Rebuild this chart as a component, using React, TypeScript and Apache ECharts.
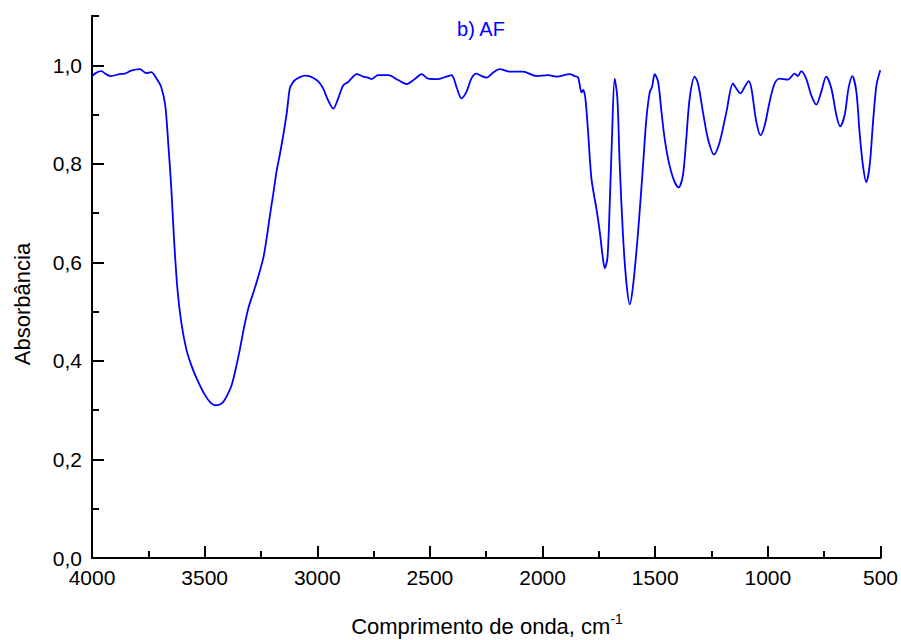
import React, { useEffect, useRef } from "react";
import * as echarts from "echarts";

// FTIR spectrum of sample AF: wavenumber (cm^-1) and absorbance
const wavenumbers: number[] = [
  4000, 3980, 3959, 3938, 3917, 3877, 3855, 3826, 3788, 3759, 3737, 3715, 3693, 3675, 3663,
  3648, 3636, 3621, 3604, 3582, 3559, 3533, 3499, 3475, 3454, 3435, 3417, 3400, 3380, 3360,
  3343, 3325, 3306, 3285, 3269, 3240, 3225, 3210, 3195, 3181, 3165, 3151, 3135, 3122, 3110,
  3099, 3077, 3055, 3030, 3003, 2988, 2974, 2952, 2929, 2907, 2885, 2863, 2845, 2826, 2796,
  2775, 2759, 2745, 2730, 2685, 2641, 2604, 2567, 2537, 2508, 2464, 2426, 2404, 2393, 2382,
  2360, 2338, 2316, 2294, 2270, 2249, 2220, 2190, 2146, 2087, 2027, 1975, 1938, 1879, 1857,
  1842, 1827, 1820, 1810, 1798, 1783, 1761, 1746, 1734, 1724, 1712, 1702, 1692, 1680, 1668,
  1658, 1643, 1628, 1613, 1598, 1576, 1554, 1539, 1524, 1514, 1502, 1487, 1472, 1458, 1440,
  1417, 1396, 1377, 1362, 1347, 1325, 1310, 1288, 1266, 1239, 1214, 1184, 1155, 1140, 1121,
  1103, 1085, 1073, 1051, 1032, 1014, 992, 970, 948, 911, 881, 867, 852, 830, 807,
  785, 763, 741, 718, 696, 679, 659, 642, 625, 607, 593, 578, 563, 548, 533,
  518, 501,
];

const absorbance: number[] = [
  0.978, 0.985, 0.988, 0.982, 0.978, 0.982, 0.983, 0.989, 0.992, 0.984, 0.986, 0.974, 0.956, 0.919, 0.851,
  0.751, 0.648, 0.547, 0.479, 0.425, 0.391, 0.362, 0.331, 0.316, 0.31, 0.311, 0.317, 0.33, 0.351, 0.388,
  0.425, 0.468, 0.507, 0.537, 0.56, 0.608, 0.648, 0.696, 0.74, 0.784, 0.822, 0.858, 0.905, 0.953, 0.964,
  0.97, 0.976, 0.979, 0.977, 0.97, 0.963, 0.953, 0.929, 0.912, 0.933, 0.959, 0.966, 0.975, 0.982, 0.977,
  0.975, 0.972, 0.976, 0.98, 0.98, 0.97, 0.962, 0.972, 0.982, 0.973, 0.972, 0.977, 0.98, 0.972, 0.956,
  0.933, 0.946, 0.973, 0.983, 0.978, 0.975, 0.985, 0.992, 0.987, 0.987, 0.978, 0.98, 0.977, 0.982, 0.978,
  0.975, 0.945, 0.95, 0.933, 0.865, 0.77, 0.709, 0.662, 0.615, 0.588, 0.609, 0.716, 0.851, 0.973, 0.933,
  0.804, 0.655, 0.56, 0.515, 0.554, 0.662, 0.797, 0.892, 0.946, 0.956, 0.982, 0.966, 0.905, 0.851, 0.804,
  0.767, 0.752, 0.777, 0.851, 0.933, 0.977, 0.963, 0.905, 0.851, 0.819, 0.844, 0.905, 0.963, 0.953, 0.943,
  0.956, 0.968, 0.953, 0.885, 0.858, 0.878, 0.926, 0.963, 0.973, 0.971, 0.983, 0.978, 0.988, 0.973, 0.939,
  0.92, 0.946, 0.977, 0.953, 0.899, 0.876, 0.899, 0.953, 0.978, 0.946, 0.865, 0.797, 0.763, 0.797, 0.885,
  0.959, 0.99,
];

const FONT = "Liberation Sans, Arial, sans-serif";
const LINE_BLUE = "#0000ff";

const commaDecimal = (v: number) => v.toFixed(1).replace(".", ",");

export default function App() {
  const ref = useRef<HTMLDivElement>(null);

  useEffect(() => {
    if (!ref.current) return;
    const chart = echarts.init(ref.current, undefined, { renderer: "svg" });

    const points = wavenumbers.map((w, i) => [w, absorbance[i]]);

    const axisLine = { show: true, lineStyle: { color: "#000", width: 2 } };

    chart.setOption({
      animation: false,
      backgroundColor: "#fff",
      grid: { left: 92, right: 20, top: 16, bottom: 82 },
      xAxis: {
        type: "value",
        inverse: true,
        min: 500,
        max: 4000,
        interval: 500,
        axisLine,
        axisTick: { show: true, inside: true, length: 12, lineStyle: { color: "#000", width: 2 } },
        minorTick: { show: true, splitNumber: 2, length: 7, lineStyle: { color: "#000", width: 2 } },
        splitLine: { show: false },
        axisLabel: {
          color: "#000",
          fontSize: 21,
          fontFamily: FONT,
          margin: 9,
          formatter: (v: number) => String(v),
        },
      },
      yAxis: [
        {
          // minor ticks every 0.1
          type: "value",
          min: 0,
          max: 1.1,
          interval: 0.1,
          position: "left",
          axisLine,
          axisTick: { show: true, inside: true, length: 7, lineStyle: { color: "#000", width: 2 } },
          axisLabel: { show: false },
          splitLine: { show: false },
        },
        {
          // major ticks and labels every 0.2
          type: "value",
          min: 0,
          max: 1.1,
          interval: 0.2,
          position: "left",
          axisLine,
          axisTick: { show: true, inside: true, length: 12, lineStyle: { color: "#000", width: 2 } },
          axisLabel: {
            color: "#000",
            fontSize: 21,
            fontFamily: FONT,
            margin: 10,
            showMaxLabel: false,
            formatter: (v: number) => commaDecimal(v),
          },
          splitLine: { show: false },
        },
      ],
      series: [
        {
          type: "line",
          yAxisIndex: 0,
          data: points,
          showSymbol: false,
          smooth: 0.3,
          lineStyle: { color: LINE_BLUE, width: 1.8 },
        },
      ],
      graphic: [
        {
          type: "text",
          x: 481,
          y: 29,
          style: {
            text: "b) AF",
            fill: LINE_BLUE,
            fontSize: 20,
            fontFamily: FONT,
            align: "center",
            verticalAlign: "middle",
          },
        },
        {
          type: "text",
          x: 22,
          y: 304,
          rotation: Math.PI / 2,
          style: {
            text: "Absorbância",
            fill: "#000",
            fontSize: 22,
            fontFamily: FONT,
            align: "center",
            verticalAlign: "middle",
          },
        },
        {
          type: "text",
          x: 487,
          y: 626,
          style: {
            text: "{m|Comprimento de onda, cm}{s|-1}",
            align: "center",
            verticalAlign: "middle",
            rich: {
              m: { fontSize: 22, fontFamily: FONT, fill: "#000", lineHeight: 28 },
              s: { fontSize: 14, fontFamily: FONT, fill: "#000", lineHeight: 14, verticalAlign: "top" },
            },
          },
        },
      ],
    });

    return () => chart.dispose();
  }, []);

  return (
    <div
      ref={ref}
      style={{ position: "fixed", left: 0, top: 0, width: 901, height: 640, background: "#fff" }}
    />
  );
}
